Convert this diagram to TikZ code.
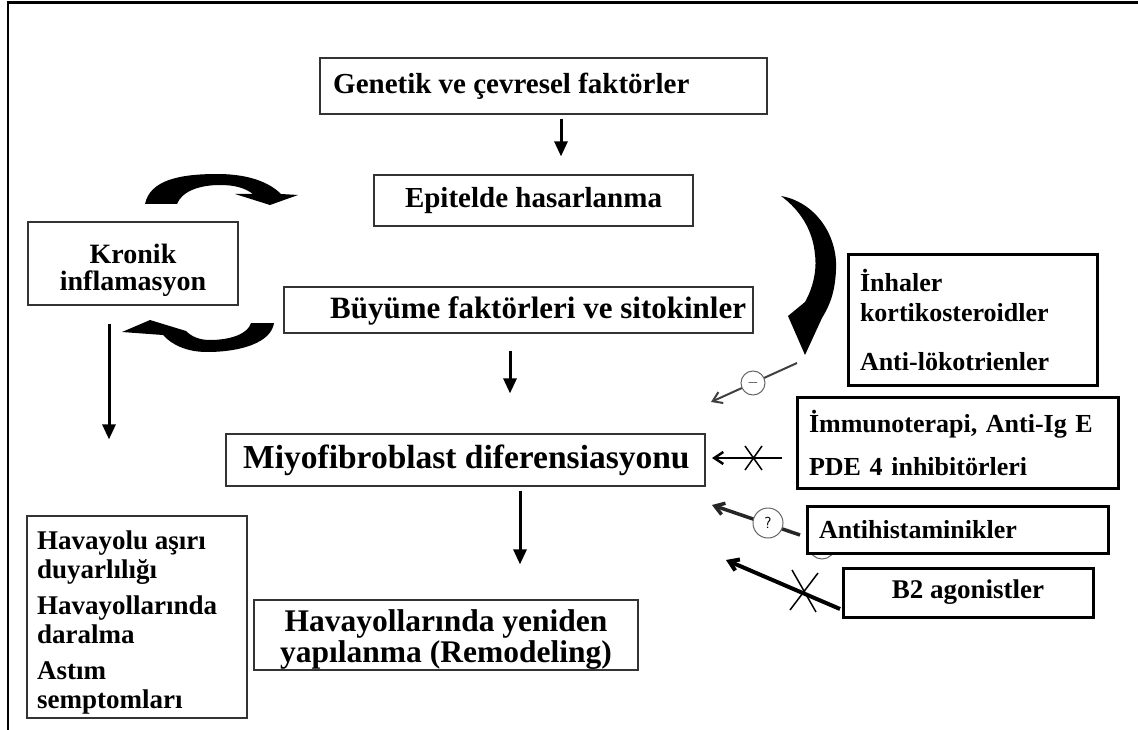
\documentclass[tikz,border=0pt]{standalone}
\usepackage{fontspec}
\setmainfont{Liberation Serif}
\usetikzlibrary{arrows.meta,calc}
\begin{document}
\begin{tikzpicture}[x=1pt,y=-1pt,
  fs/.style={font=\fontsize{#1}{#1*1.15}\selectfont\bfseries},
  box/.style={draw=black!80,line width=1.2pt,fill=white,inner sep=0pt},
  tbox/.style={draw=black,line width=3pt,fill=white,inner xsep=12pt,inner ysep=0pt,align=left,font=\fontsize{26}{30}\selectfont\bfseries},
  txt/.style={inner sep=0pt},
  arr/.style={line width=3pt,-{Triangle[width=13pt,length=15pt]}},
  inh/.style={line width=#1,-{Straight Barb[width=12pt,length=9pt,line width=#1]}},
  blob/.style={fill=black,draw=none}
]
\useasboundingbox (0,0) rectangle (1138,730);
% outer frame
\draw[line width=3pt] (7,3) -- (1138,3);
\draw[line width=2pt] (8,3) -- (8,730);

% boxes
\node[box,minimum width=447,minimum height=56] (gen) at (543.5,86) {};
\node[txt,anchor=west,font=\fontsize{29}{33}\selectfont\bfseries] (gent) at (333,86) {Genetik ve çevresel faktörler};
\node[box,minimum width=319,minimum height=51,font=\fontsize{29}{33}\selectfont\bfseries] (epi) at (533.5,200.5) {Epitelde hasarlanma};
\node[box,minimum width=210,minimum height=83] (kro) at (133,263.5) {};
\node[txt,align=center,font=\fontsize{28}{27}\selectfont\bfseries] (krot) at (133,270.5) {Kronik\\inflamasyon};
\node[box,minimum width=469,minimum height=46] (buy) at (518.5,310) {};
\node[txt,anchor=west,font=\fontsize{31}{35}\selectfont\bfseries] (buyt) at (330,311) {Büyüme faktörleri ve sitokinler};
\node[box,minimum width=479,minimum height=52] (miy) at (465.5,460) {};
\node[txt,anchor=west,font=\fontsize{33.5}{38}\selectfont\bfseries] (miyt) at (243,460) {Miyofibroblast diferensiasyonu};
\node[box,minimum width=384,minimum height=70] (rem) at (446,635) {};
\node[txt,align=center,font=\fontsize{31.5}{31}\selectfont\bfseries] (remt) at (446,639.5) {Havayollarında yeniden\\yapılanma (Remodeling)};
\node[box,minimum width=220,minimum height=202] (sym) at (137,617) {};
\node[txt,anchor=north west,align=left,font=\fontsize{27}{29}\selectfont\bfseries] (symt) at (37,530.5)
  {Havayolu aşırı\\duyarlılığı\\[7pt]Havayollarında\\daralma\\[7pt]Astım\\semptomları};

% straight arrows
\draw[arr] ([xshift=17.5,yshift=-4]gen.south) -- ([xshift=27.5,yshift=18]epi.north);
\draw[arr] ([xshift=-8.5,yshift=-17]buy.south) -- ([xshift=44.5,yshift=40]miy.north);
\draw[arr] ([xshift=54.5,yshift=-4]miy.south) -- ([xshift=74,yshift=35]rem.north);
\draw[arr] ([xshift=-24,yshift=-18]kro.south) -- ([xshift=-28,yshift=76]sym.north);

% curved arrows
\fill[blob] (145,204) .. controls (150,180) and (180,174) .. (217,174)
  .. controls (250,174) and (270,183) .. (281,194) -- (298,195) -- (270,205) -- (235,194) -- (253,194)
  .. controls (245,188) and (235,185) .. (220,185) .. controls (200,185) and (182,191) .. (177,204) -- cycle;
\fill[blob] (274,323) .. controls (271,343) and (240,352) .. (207,352)
  .. controls (187,352) and (172,345) .. (163,335) -- (122,332) -- (150,320) -- (186,331)
  .. controls (192,337) and (200,340) .. (210,340) .. controls (230,340) and (248,334) .. (251,323) -- cycle;
\fill[blob] (781,196) .. controls (815,202) and (838,235) .. (836,270)
  .. controls (835,292) and (830,305) .. (822,318) -- (805,355) -- (788,316) -- (805,302)
  .. controls (813,288) and (817,270) .. (815,255) .. controls (813,230) and (800,210) .. (781,196) -- cycle;

% inhibition markers
\coordinate (a1) at (797,363); \coordinate (a1t) at (711,402);
\draw[inh=2pt,black!75] (a1) -- (a1t);
\node[circle,draw=black!60,fill=white,line width=1pt,minimum size=24,inner sep=0pt,font=\fontsize{14}{14}\selectfont] (c1) at (753,383) {$-$};

\coordinate (a2) at (782,458); \coordinate (a2t) at (712,458);
\draw[inh=2.5pt] (a2) -- (a2t);
\draw[line width=1.5pt] (745,446) -- (762,470) (745,470) -- (762,446);

\coordinate (a3) at (800,535); \coordinate (a3t) at (712,505);
\draw[inh=3.5pt,black!85] (a3) -- (a3t);
\node[circle,draw=black!60,fill=white,line width=1pt,minimum size=30,inner sep=0pt,font=\sffamily\fontsize{16}{16}\selectfont] (c3) at (768,523) {?};

\draw[black!60,line width=1pt] (822,546) circle (13);
\coordinate (a4) at (840,609); \coordinate (a4t) at (726,560);
\draw[inh=4pt] (a4) -- (a4t);
\draw[line width=1.5pt] (792,570) -- (816,612) (790,610) -- (818,573);

% therapy boxes
\node[tbox,minimum width=249,minimum height=130,text width=225] (inh1) at (972.5,320)
  {İnhaler\\kortikosteroidler\\[19pt]Anti-lökotrienler};
\node[tbox,minimum width=321,minimum height=91,text width=297,inner xsep=11pt] (imm) at (957.5,442.5)
  {İmmunoterapi, Anti-Ig E\\[13pt]PDE 4 inhibitörleri};
\node[tbox,minimum width=301,minimum height=47,text width=277] (ant) at (957.5,529.5) {Antihistaminikler};
\node[tbox,font=\fontsize{27}{30}\selectfont\bfseries,minimum width=250,minimum height=49,align=center] (b2) at (968,592.5) {B2 agonistler};
\end{tikzpicture}
\end{document}
